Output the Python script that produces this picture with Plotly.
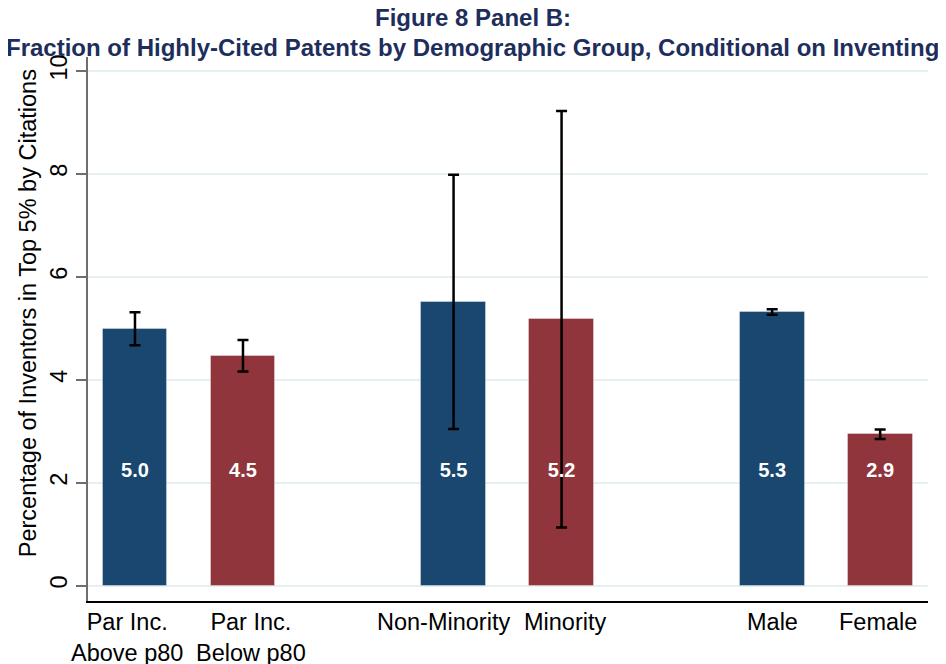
import plotly.graph_objects as go

# ---- data ----
categories = ["Par Inc.<br>Above p80", "Par Inc.<br>Below p80",
              "Non-Minority", "Minority", "Male", "Female"]
group_index = [0, 0, 1, 1, 2, 2]
within_index = [0, 1, 0, 1, 0, 1]
values = [4.99, 4.47, 5.50, 5.17, 5.32, 2.94]
ci_low = [4.67, 4.16, 3.04, 1.13, 5.26, 2.85]
ci_high = [5.31, 4.77, 7.98, 9.22, 5.37, 3.03]
y_ticks = [0, 2, 4, 6, 8, 10]
title_lines = ["Figure 8 Panel B:",
               "Fraction of Highly-Cited Patents by Demographic Group, Conditional on Inventing"]

# ---- style ----
GROUP_STEP = 2.95
BLUE = "#1a476f"
RED = "#90353b"
bar_colors = [BLUE if w == 0 else RED for w in within_index]
FONT = "Arial, Liberation Sans, Helvetica, sans-serif"
TITLE_COLOR = "#1e2e5c"
LABEL_Y = 2.2
label_xshift = [-8, 8, -10, 4, 0, -2]   # nudges like the original's crowded labels

x_pos = [g * GROUP_STEP + w for g, w in zip(group_index, within_index)]
err_plus = [h - v for h, v in zip(ci_high, values)]
err_minus = [v - l for v, l in zip(values, ci_low)]

fig = go.Figure()
fig.add_trace(go.Bar(
    x=x_pos, y=values, width=0.6,
    marker=dict(color=bar_colors, line=dict(color="rgba(255,255,255,0.35)", width=1)),
    error_y=dict(type="data", symmetric=False, array=err_plus, arrayminus=err_minus,
                 color="black", thickness=2.5, width=5.5),
    showlegend=False, hoverinfo="skip",
))
fig.add_trace(go.Scatter(
    x=x_pos, y=[LABEL_Y] * len(values), mode="text",
    text=[f"{v:.1f}" for v in values],
    textfont=dict(family=FONT, size=20, color="white", weight="bold"),
    showlegend=False, hoverinfo="skip",
))

# page body has an 8px margin, so the figure is 8px smaller than the window
fig.update_layout(
    width=938, height=656,
    margin=dict(l=80, r=18, t=49, b=63, autoexpand=False),
    paper_bgcolor="white", plot_bgcolor="white",
    font=dict(family=FONT, color="black"),
    bargap=0,
)
fig.update_xaxes(
    range=[-0.435, 7.343], tickvals=x_pos, showticklabels=False, automargin=False,
    showgrid=False, zeroline=False, showline=True, linecolor="black", linewidth=1.5,
    ticks="", fixedrange=True,
)
fig.update_yaxes(
    range=[-0.30, 10.27], tickvals=y_ticks, tickangle=-90, automargin=False,
    tickfont=dict(size=23.5, color="black"),
    showgrid=True, gridcolor="#e6eff2", gridwidth=2, zeroline=False,
    showline=True, linecolor="#6e6e6e", linewidth=1.5,
    ticks="outside", ticklen=10, tickwidth=1.5, tickcolor="#6e6e6e",
)
# category labels under the axis
for xv, cat, xs in zip(x_pos, categories, label_xshift):
    fig.add_annotation(
        text=cat, xref="x", yref="paper", x=xv, y=-0.011,
        xanchor="center", yanchor="top", showarrow=False, xshift=xs,
        align="center", font=dict(family=FONT, size=23.5, color="black"),
    )
for line, py in zip(title_lines, [1.0735, 1.0166]):
    fig.add_annotation(
        text=f"<b>{line}</b>", xref="paper", yref="paper",
        x=0.4583, y=py, xanchor="center", yanchor="middle", showarrow=False,
        font=dict(family=FONT, size=24, color=TITLE_COLOR),
    )
fig.add_annotation(
    text="Percentage of Inventors in Top 5% by Citations",
    textangle=-90, xref="paper", yref="paper",
    x=-0.0714, y=0.529, xanchor="center", yanchor="middle", showarrow=False,
    font=dict(family=FONT, size=23.5, color="black"),
)

fig.write_html("out.html")
